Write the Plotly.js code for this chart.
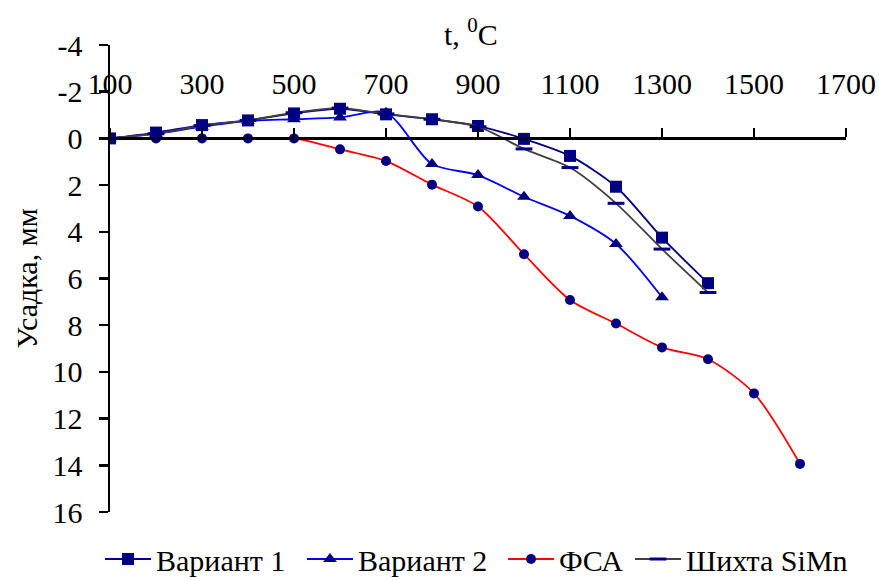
<!DOCTYPE html>
<html>
<head>
<meta charset="utf-8">
<script src="https://cdn.plot.ly/plotly-3.0.1.min.js"></script>
<style>html,body{margin:0;padding:0;background:#fff;}#chart{width:879px;height:580px;}</style>
</head>
<body>
<div id="chart"></div>
<script>
const temps = [100,200,300,400,500,600,700,800,900,1000,1100,1200,1300,1400,1500,1600];
const variant1 = [0,-0.25,-0.57,-0.77,-1.07,-1.27,-1.03,-0.82,-0.53,0.02,0.75,2.07,4.25,6.2];
const variant2 = [0,-0.2,-0.5,-0.75,-0.82,-0.9,-1.1,1.1,1.57,2.5,3.32,4.52,6.8];
const fsa = [0,0,0,0,0,0.47,0.97,1.98,2.92,4.96,6.92,7.93,8.95,9.46,10.92,13.94];
const shihta = [0,-0.2,-0.55,-0.77,-1.1,-1.3,-1.05,-0.82,-0.5,0.45,1.25,2.78,4.74,6.6];
const names = ["Вариант 1","Вариант 2","ФСА","Шихта SiMn"];
const xTicks = [100,300,500,700,900,1100,1300,1500,1700];
const yTicks = [-4,-2,0,2,4,6,8,10,12,14,16];

const FAM = "Liberation Serif";
const f = (size) => ({family: FAM, size: size, color: "#000"});
const sm = 0.8;
const traces = [
  {x: temps.slice(0, variant1.length), y: variant1, name: names[0], mode: "lines+markers", legend: "legend",
   line: {color: "#000080", width: 1.8, shape: "spline", smoothing: sm},
   marker: {symbol: "square", size: 12, color: "#000080"}},
  {x: temps.slice(0, variant2.length), y: variant2, name: names[1], mode: "lines+markers", legend: "legend2",
   line: {color: "#0000FF", width: 1.8, shape: "spline", smoothing: sm},
   marker: {symbol: "triangle-up", size: 12, color: "#000080"}},
  {x: temps.slice(0, fsa.length), y: fsa, name: names[2], mode: "lines+markers", legend: "legend3",
   line: {color: "#FF0000", width: 1.8, shape: "spline", smoothing: sm},
   marker: {symbol: "circle", size: 10, color: "#000080"}},
  {x: temps.slice(0, shihta.length), y: shihta, name: names[3], mode: "lines+markers", legend: "legend4",
   line: {color: "#404040", width: 1.8, shape: "spline", smoothing: sm},
   marker: {symbol: "line-ew", size: 12, color: "#000080", line: {color: "#000080", width: 3}}}
];

const px = (p) => (p - 110) / 736;
const leg = (p) => ({orientation: "h", x: px(p), xanchor: "left", y: -0.045, yanchor: "top",
                     font: f(30), itemwidth: 46, bgcolor: "rgba(0,0,0,0)"});

const layout = {
  width: 879, height: 580,
  margin: {l: 110, r: 33, t: 45, b: 68, autoexpand: false},
  paper_bgcolor: "#fff", plot_bgcolor: "#fff",
  showlegend: true,
  font: f(30),
  legend: leg(100), legend2: leg(302), legend3: leg(503), legend4: leg(630),
  xaxis: {range: [100, 1700], tickvals: xTicks, ticktext: xTicks.map(String),
          side: "top", anchor: "free", position: 0.8,
          showline: true, linecolor: "#000", linewidth: 2.5,
          ticks: "outside", ticklen: 9, tickwidth: 2.5, tickcolor: "#000",
          ticklabelstandoff: 22,
          showgrid: false, zeroline: false,
          tickfont: f(30)},
  yaxis: {range: [16, -4], tickvals: yTicks, ticktext: yTicks.map(String),
          showline: true, linecolor: "#000", linewidth: 2.5,
          ticks: "outside", ticklen: 9, tickwidth: 2.5, tickcolor: "#000",
          ticklabelstandoff: 10,
          showgrid: false, zeroline: false,
          tickfont: f(30),
          title: {text: "Усадка, мм", font: f(30), standoff: 6}},
  annotations: [{text: "t, <sup>0</sup>C", xref: "paper", yref: "paper", x: 0.49, y: 1.0,
                 xanchor: "center", yanchor: "bottom", yshift: -8, showarrow: false,
                 font: f(30)}]
};

Plotly.newPlot("chart", traces, layout, {displayModeBar: false, staticPlot: true});
</script>
</body>
</html>
